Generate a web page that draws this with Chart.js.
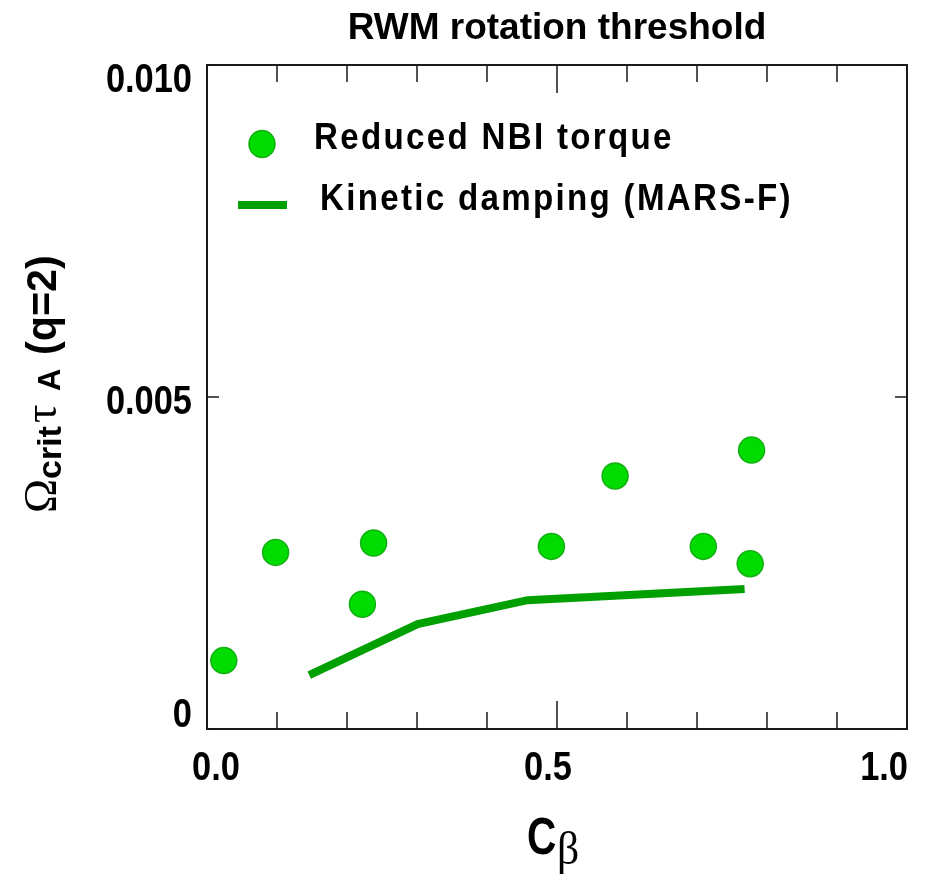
<!DOCTYPE html>
<html>
<head>
<meta charset="utf-8">
<script src="https://cdn.jsdelivr.net/npm/chart.js@4"></script>
<style>
  body { margin: 0; background: #fff; }
  #wrap { width: 931px; height: 883px; }
</style>
</head>
<body>
<div id="wrap"><canvas id="rwmChart" width="931" height="883"></canvas></div>
<script>
// data
const nbiX = [0.024, 0.098, 0.222, 0.238, 0.492, 0.583, 0.709, 0.778, 0.776];
const nbiY = [0.00103, 0.00266, 0.00188, 0.00280, 0.00275, 0.00381, 0.00275, 0.00420, 0.00249];
const marsX = [0.146, 0.301, 0.458, 0.768];
const marsY = [0.00081, 0.00158, 0.00194, 0.00211];

const xTickValues = [0, 0.5, 1.0];
const xTickLabels = ['0.0', '0.5', '1.0'];
const yTickValues = [0, 0.005, 0.010];
const yTickLabels = ['0', '0.005', '0.010'];

const titleText = 'RWM rotation threshold';
const legendNbi = 'Reduced NBI torque';
const legendMars = 'Kinetic damping (MARS-F)';

const dotFill = '#00dc00';
const dotEdge = '#13b013';
const lineGreen = '#00a000';

const SANS = '"Liberation Sans", Arial, sans-serif';
const SERIF = '"Liberation Serif", "DejaVu Serif", serif';

// text with horizontal squeeze
function squeezed(ctx, text, x, y, font, align, baseline, sx) {
    ctx.save();
    ctx.font = font;
    ctx.textBaseline = baseline;
    const w = ctx.measureText(text).width * sx;
    let left = x;
    if (align === 'center') left = x - w / 2;
    if (align === 'right') left = x - w;
    ctx.translate(left, y);
    ctx.scale(sx, 1);
    ctx.textAlign = 'left';
    ctx.fillText(text, 0, 0);
    ctx.restore();
    return w;
}

// pieces of an axis title, each at its own offset along the baseline
function richText(ctx, parts, x, y) {
    parts.forEach(p => {
        squeezed(ctx, p.t, x + p.at, y + (p.dy || 0), p.font, 'left', 'alphabetic', p.sx || 1);
    });
}

const framePlugin = {
    id: 'frame',
    afterDraw(chart) {
        const ctx = chart.ctx;
        const xs = chart.scales.x;
        const ys = chart.scales.y;
        const a = chart.chartArea;
        ctx.save();
        ctx.fillStyle = '#000';
        ctx.strokeStyle = '#1a1a1a';

        // box
        ctx.lineWidth = 2;
        ctx.strokeRect(a.left, a.top, a.right - a.left, a.bottom - a.top);

        // x ticks, inside, top and bottom
        ctx.lineWidth = 1.5;
        for (let i = 1; i < 10; i++) {
            const px = xs.getPixelForValue(i / 10);
            const len = (i === 5) ? 28 : 17;
            ctx.beginPath();
            ctx.moveTo(px, a.bottom); ctx.lineTo(px, a.bottom - len);
            ctx.moveTo(px, a.top); ctx.lineTo(px, a.top + len);
            ctx.stroke();
        }
        // y ticks
        yTickValues.forEach(v => {
            const py = ys.getPixelForValue(v);
            ctx.beginPath();
            ctx.moveTo(a.left, py); ctx.lineTo(a.left + 12, py);
            ctx.moveTo(a.right, py); ctx.lineTo(a.right - 12, py);
            ctx.stroke();
        });

        // tick labels
        const tickFont = 'bold 40px ' + SANS;
        xTickValues.forEach((v, i) => {
            const px = xs.getPixelForValue(v);
            let align = 'center', x = px - 9;
            if (i === 0) { align = 'left'; x = px - 15; }
            if (i === xTickValues.length - 1) { align = 'right'; x = px + 1; }
            squeezed(ctx, xTickLabels[i], x, a.bottom + 40, tickFont, align, 'middle', 0.86);
        });
        yTickValues.forEach((v, i) => {
            const py = ys.getPixelForValue(v);
            let base = 'middle', y = py + 6;
            if (i === 0) { base = 'bottom'; y = py + 7; }
            if (i === yTickValues.length - 1) { base = 'top'; y = py - 4; }
            squeezed(ctx, yTickLabels[i], a.left - 15, y, tickFont, 'right', base, 0.86);
        });

        // title
        squeezed(ctx, titleText, (a.left + a.right) / 2, 29, 'bold 37px ' + SANS, 'center', 'middle', 1);

        // x axis title: C with beta subscript
        richText(ctx, [
            { t: 'C', font: 'bold 52px ' + SANS, sx: 0.78, at: 0 },
            { t: '\u03b2', font: '46px ' + SERIF, sx: 0.95, at: 30, dy: 10 }
        ], 527, 854);

        // y axis title, rotated
        ctx.save();
        ctx.translate(56, 513);
        ctx.rotate(-Math.PI / 2);
        richText(ctx, [
            { t: '\u03a9', font: '46px ' + SERIF, at: 0 },
            { t: 'crit', font: 'bold 34px ' + SANS, at: 34, dy: 5 },
            { t: '\u03c4', font: '46px ' + SERIF, at: 90 },
            { t: 'A', font: 'bold 31px ' + SANS, at: 122, dy: 4 },
            { t: '(q=2)', font: 'bold 43px ' + SANS, sx: 0.96, at: 158 }
        ], 0, 0);
        ctx.restore();

        // legend
        ctx.beginPath();
        ctx.ellipse(262, 144, 13, 13.5, 0, 0, Math.PI * 2);
        ctx.fillStyle = dotFill;
        ctx.fill();
        ctx.lineWidth = 1.5;
        ctx.strokeStyle = dotEdge;
        ctx.stroke();
        ctx.fillStyle = '#000';
        ctx.save();
        ctx.letterSpacing = '2.5px';
        squeezed(ctx, legendNbi, 314, 139, 'bold 36px ' + SANS, 'left', 'middle', 0.92);
        squeezed(ctx, legendMars, 320, 200, 'bold 36px ' + SANS, 'left', 'middle', 0.92);
        ctx.restore();
        ctx.beginPath();
        ctx.moveTo(238, 205); ctx.lineTo(287, 205);
        ctx.lineWidth = 8;
        ctx.strokeStyle = lineGreen;
        ctx.stroke();

        ctx.restore();
    }
};

const ctx = document.getElementById('rwmChart').getContext('2d');
const rwmChart = new Chart(ctx, {
    type: 'scatter',
    data: {
        datasets: [{
            label: legendMars,
            data: marsX.map((x, i) => ({ x: x, y: marsY[i] })),
            showLine: true,
            borderColor: lineGreen,
            borderWidth: 8,
            pointRadius: 0,
            borderCapStyle: 'butt',
            tension: 0
        }, {
            label: legendNbi,
            data: nbiX.map((x, i) => ({ x: x, y: nbiY[i] })),
            backgroundColor: dotFill,
            borderColor: dotEdge,
            borderWidth: 1.5,
            pointRadius: 13
        }]
    },
    options: {
        responsive: false,
        animation: false,
        layout: { padding: { left: 207, right: 24, top: 65, bottom: 154 } },
        scales: {
            x: { type: 'linear', min: 0, max: 1, display: false },
            y: { type: 'linear', min: 0, max: 0.010, display: false }
        },
        plugins: {
            legend: { display: false },
            tooltip: { enabled: false }
        }
    },
    plugins: [framePlugin]
});
</script>
</body>
</html>
